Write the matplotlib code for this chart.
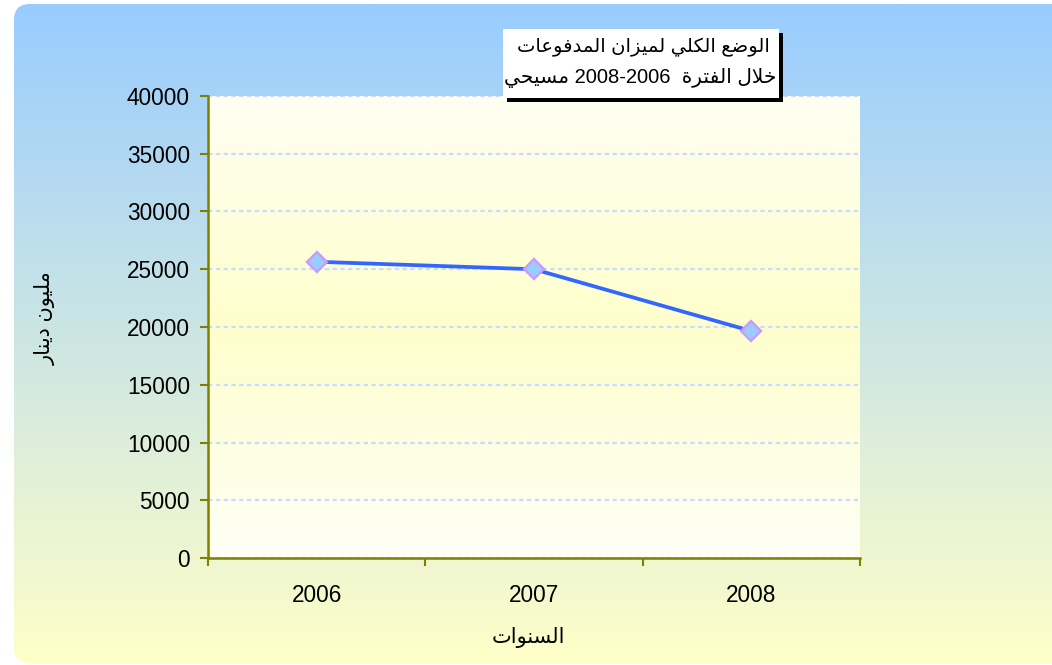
import re
import numpy as np
import matplotlib
matplotlib.use("Agg")
import matplotlib.pyplot as plt
from matplotlib.patches import FancyBboxPatch, Rectangle

years = ["2006", "2007", "2008"]
values = [25650, 25000, 19650]
yticks = [0, 5000, 10000, 15000, 20000, 25000, 30000, 35000, 40000]

title_1 = "الوضع الكلي لميزان المدفوعات"
title_2 = "خلال الفترة  2008-2006 مسيحي"
xlabel = "السنوات"
ylabel = "مليون دينار"

FAM = ["Liberation Sans", "DejaVu Sans"]

# presentation forms (isolated, final, initial, medial) - no reshaper installed
def _f(base, dual=True):
    return (base, base + 1, base + 2, base + 3) if dual else (base, base + 1, None, None)

FORMS = {
    "ا": _f(0xFE8D, False), "ة": _f(0xFE93, False), "ت": _f(0xFE95), "ح": _f(0xFEA1),
    "خ": _f(0xFEA5), "د": _f(0xFEA9, False), "ر": _f(0xFEAD, False), "ز": _f(0xFEAF, False),
    "س": _f(0xFEB1), "ض": _f(0xFEBD), "ع": _f(0xFEC9), "ف": _f(0xFED1), "ك": _f(0xFED9),
    "ل": _f(0xFEDD), "م": _f(0xFEE1), "ن": _f(0xFEE5), "و": _f(0xFEED, False), "ي": _f(0xFEF1),
}

def ar(text):
    out = []
    i = 0
    n = len(text)
    joins = lambda c: c in FORMS and FORMS[c][2] is not None
    while i < n:
        c = text[i]
        prev = text[i - 1] if i > 0 else ""
        nxt = text[i + 1] if i + 1 < n else ""
        if c not in FORMS:
            out.append(c)
            i += 1
            continue
        if c == "ل" and nxt == "ا":
            out.append(chr(0xFEFC if joins(prev) else 0xFEFB))
            i += 2
            continue
        cp = joins(prev)
        cn = FORMS[c][2] is not None and nxt in FORMS
        idx = 3 if (cp and cn) else 1 if cp else 2 if cn else 0
        out.append(chr(FORMS[c][idx]))
        i += 1
    s = "".join(out)[::-1]
    return re.sub(r"[0-9][0-9\-]*[0-9]", lambda m: m.group(0)[::-1], s)


W, H = 1052, 665
fig = plt.figure(figsize=(W / 100, H / 100), dpi=100)
fig.patch.set_facecolor("white")

# background panel with rounded corners
bg = fig.add_axes([0, 0, 1, 1], zorder=0)
bg.set_xlim(0, W)
bg.set_ylim(H, 0)
bg.axis("off")
t = np.linspace(0, 1, 256)[:, None]
top = np.array([153, 204, 255]) / 255
bot = np.array([255, 255, 200]) / 255
grad = top[None, None, :] * (1 - t[..., None]) + bot[None, None, :] * t[..., None]
grad = np.repeat(grad, 2, axis=1)
im = bg.imshow(grad, extent=[14, W + 20, 664, 4], aspect="auto", zorder=0)
panel = FancyBboxPatch((14, 4), W + 40, 659, boxstyle="round,pad=0,rounding_size=16",
                       transform=bg.transData, facecolor="none", edgecolor="none")
bg.add_patch(panel)
im.set_clip_path(panel)

ax = fig.add_axes([208 / W, 1 - 558 / H, (860 - 208) / W, (558 - 96) / H], zorder=1)
ax.set_facecolor("none")

# plot area gradient: whitish top, yellow middle, whitish bottom
s = np.linspace(0, 1, 256)
mid = np.array([255, 255, 204]) / 255
edge_top = np.array([254, 254, 242]) / 255
edge_bot = np.array([254, 254, 246]) / 255
w = 1 - np.abs(s - 0.5) * 2
pg = np.where(s[:, None] < 0.5,
              edge_top * (1 - w[:, None]) + mid * w[:, None],
              edge_bot * (1 - w[:, None]) + mid * w[:, None])
pg = np.repeat(pg[:, None, :], 2, axis=1)
ax.imshow(pg, extent=[0, 1, 0, 1], transform=ax.transAxes, aspect="auto", zorder=0)

x = np.arange(1, len(years) + 1)
ax.plot(x, values, color="#3366FF", lw=2.7, marker="D", markersize=10,
        markerfacecolor="#99CCFF", markeredgecolor="#CC99FF", markeredgewidth=1.7, zorder=5)

ax.set_xlim(0.5, len(years) + 0.5)
ax.set_ylim(0, 40000)
ax.set_yticks(yticks)
ax.set_yticklabels([str(v) for v in yticks], family=FAM, fontsize=16.3)
ax.set_xticks(x)
ax.set_xticklabels(years, family=FAM, fontsize=16.3)
ax.set_xticks(np.arange(0.5, len(years) + 1, 1), minor=True)
ax.tick_params(axis="x", which="major", length=0, pad=19)
ax.tick_params(axis="x", which="minor", length=6, width=1.5, color="#808000", direction="out")
ax.tick_params(axis="y", length=6, width=1.5, color="#808000", direction="out", pad=7)

ax.yaxis.grid(True, color="#C8DCFF", lw=1.6, linestyle=(0, (2, 1.5)), zorder=1)
ax.set_axisbelow(True)
for sp in ["top", "right"]:
    ax.spines[sp].set_visible(False)
for sp in ["left", "bottom"]:
    ax.spines[sp].set_color("#808000")
    ax.spines[sp].set_linewidth(1.8)

# overlay for title box (above the plot area) and axis titles
ov = fig.add_axes([0, 0, 1, 1], zorder=2)
ov.set_xlim(0, W)
ov.set_ylim(H, 0)
ov.axis("off")
ov.patch.set_alpha(0)
ov.add_patch(Rectangle((507, 33), 276, 69, facecolor="black", edgecolor="none", zorder=2))
ov.add_patch(Rectangle((503, 29), 276, 69, facecolor="white", edgecolor="none", zorder=3))
ov.text(643, 47, ar(title_1), ha="center", va="center", fontsize=14, family=FAM, zorder=4)
ov.text(640, 78, ar(title_2), ha="center", va="center", fontsize=14.5, family=FAM, zorder=4)
ov.text(528, 638, ar(xlabel), ha="center", va="center", fontsize=15, family=FAM)
ov.text(45, 318, ar(ylabel), ha="center", va="center", fontsize=15, rotation=90, family=FAM)

fig.savefig("out.png", dpi=100)
